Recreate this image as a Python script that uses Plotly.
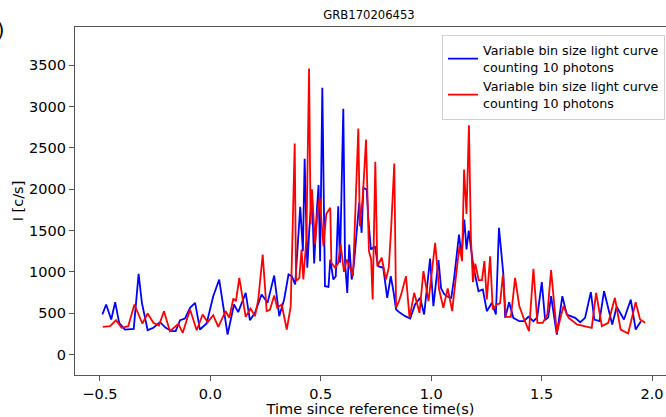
import plotly.graph_objects as go

# ---- data ----
blue_t = [-0.489, -0.472, -0.449, -0.431, -0.413, -0.387, -0.347, -0.325, -0.310, -0.284,
          -0.258, -0.228, -0.202, -0.175, -0.157, -0.137, -0.115, -0.092, -0.069, -0.047,
          -0.017, 0.013, 0.040, 0.078, 0.107, 0.126, 0.160, 0.179, 0.202, 0.232,
          0.259, 0.289, 0.312, 0.334, 0.354, 0.369, 0.384, 0.407, 0.419, 0.427,
          0.439, 0.448, 0.460, 0.470, 0.482, 0.490, 0.497, 0.507, 0.519, 0.535,
          0.543, 0.557, 0.568, 0.579, 0.587, 0.602, 0.610, 0.620, 0.629, 0.640,
          0.650, 0.662, 0.674, 0.685, 0.693, 0.708, 0.715, 0.727, 0.745, 0.760,
          0.783, 0.801, 0.817, 0.829, 0.841, 0.859, 0.882, 0.905, 0.927, 0.950,
          0.968, 0.995, 1.010, 1.033, 1.045, 1.060, 1.075, 1.091, 1.104, 1.126,
          1.137, 1.150, 1.160, 1.170, 1.180, 1.191, 1.214, 1.234, 1.252, 1.275,
          1.293, 1.307, 1.327, 1.335, 1.353, 1.372, 1.399, 1.420, 1.440, 1.463,
          1.480, 1.501, 1.516, 1.530, 1.543, 1.569, 1.594, 1.614, 1.652, 1.675,
          1.697, 1.723, 1.739, 1.762, 1.783, 1.802, 1.820, 1.840, 1.873, 1.904,
          1.926, 1.950]
blue_v = [484, 605, 423, 633, 383, 302, 310, 976, 625, 294,
          323, 391, 323, 282, 282, 415, 435, 565, 625, 302,
          375, 705, 907, 242, 605, 512, 746, 415, 504, 726,
          625, 955, 464, 665, 968, 947, 847, 1787, 1250, 2367,
          1049, 1512, 1950, 1100, 1734, 2050, 1129, 3226, 826, 818,
          1149, 907, 947, 1794, 1109, 2972, 1109, 746, 1331, 907,
          1089, 1512, 1835, 1472, 2016, 1996, 1653, 1270, 1310, 1068,
          1049, 686, 947, 766, 544, 504, 464, 435, 605, 686,
          484, 1161, 585, 1141, 800, 726, 700, 686, 928, 1452,
          1200, 1633, 1270, 1500, 1300, 1068, 766, 786, 524, 625,
          484, 1532, 968, 444, 633, 444, 403, 403, 456, 403,
          450, 875, 415, 450, 705, 242, 705, 484, 444, 391,
          444, 754, 423, 403, 766, 565, 363, 577, 423, 665,
          302, 403]

red_t = [-0.487, -0.454, -0.427, -0.402, -0.372, -0.344, -0.308, -0.284, -0.258, -0.233,
         -0.210, -0.183, -0.145, -0.125, -0.092, -0.062, -0.035, -0.012, 0.013, 0.036,
         0.069, 0.086, 0.104, 0.116, 0.131, 0.160, 0.182, 0.202, 0.217, 0.237,
         0.255, 0.270, 0.289, 0.303, 0.323, 0.346, 0.364, 0.382, 0.388, 0.403,
         0.413, 0.421, 0.435, 0.447, 0.454, 0.460, 0.474, 0.485, 0.495, 0.512,
         0.525, 0.543, 0.548, 0.565, 0.578, 0.590, 0.605, 0.618, 0.632, 0.646,
         0.670, 0.677, 0.690, 0.705, 0.718, 0.728, 0.735, 0.747, 0.756, 0.776,
         0.795, 0.808, 0.818, 0.833, 0.841, 0.855, 0.866, 0.886, 0.902, 0.923,
         0.947, 0.965, 0.988, 1.000, 1.018, 1.036, 1.055, 1.075, 1.095, 1.114,
         1.128, 1.140, 1.149, 1.160, 1.171, 1.180, 1.189, 1.200, 1.215, 1.230,
         1.241, 1.252, 1.267, 1.279, 1.297, 1.312, 1.325, 1.338, 1.361, 1.380,
         1.399, 1.421, 1.443, 1.463, 1.481, 1.505, 1.526, 1.543, 1.569, 1.599,
         1.622, 1.660, 1.700, 1.727, 1.747, 1.773, 1.802, 1.832, 1.858, 1.892,
         1.926, 1.946, 1.969]
red_v = [335, 343, 415, 323, 343, 605, 375, 496, 383, 351,
         524, 282, 371, 262, 544, 294, 484, 391, 476, 335,
         524, 444, 677, 645, 928, 456, 556, 464, 665, 1210,
         524, 544, 714, 565, 605, 302, 585, 2552, 887, 928,
         1270, 907, 1400, 3460, 1573, 2000, 1331, 1714, 1900, 1310,
         1700, 1775, 1109, 1049, 1100, 1331, 1000, 1150, 1050, 947,
         2734, 1552, 1900, 2600, 1250, 1150, 665, 2331, 1068, 1170,
         907, 1050, 1492, 2310, 565, 650, 746, 947, 444, 746,
         504, 1008, 645, 900, 1351, 786, 565, 800, 524, 988,
         1310, 1129, 2238, 1700, 2774, 1400, 875, 1100, 900, 900,
         1129, 665, 1189, 544, 605, 620, 968, 456, 456, 928,
         585, 423, 282, 1036, 383, 383, 484, 1020, 262, 585,
         444, 363, 340, 322, 746, 343, 383, 686, 302, 254,
         633, 423, 383]

x_tickvals = [-0.5, 0.0, 0.5, 1.0, 1.5, 2.0]
x_ticktext = ["\u22120.5", "0.0", "0.5", "1.0", "1.5", "2.0"]
y_tickvals = [0, 500, 1000, 1500, 2000, 2500, 3000, 3500]

series_name = "Variable bin size light curve<br>counting 10 photons"
title_text = "GRB170206453"
x_title = "Time since reference time(s)"
y_title = "I [c/s]"

FONT = "DejaVu Sans"

fig = go.Figure()
fig.add_trace(go.Scatter(x=blue_t, y=blue_v, mode="lines", name=series_name,
                         line=dict(color="#0000ff", width=1.8)))
fig.add_trace(go.Scatter(x=red_t, y=red_v, mode="lines", name=series_name,
                         line=dict(color="#ff0000", width=1.8)))

fig.update_layout(
    width=666, height=417,
    margin=dict(l=75, r=0, t=27, b=42, autoexpand=False),
    paper_bgcolor="white", plot_bgcolor="white",
    font=dict(family=FONT, color="black"),
    title=dict(text=title_text, x=369 / 666, xref="container", xanchor="center",
               y=1 - 15 / 417, yref="container", yanchor="middle",
               font=dict(family=FONT, size=11.6, color="black")),
    showlegend=True,
    legend=dict(x=0.621, y=0.978, xanchor="left", yanchor="top",
                bgcolor="white", bordercolor="#d0d0d0", borderwidth=1,
                font=dict(family=FONT, size=12.7, color="black"),
                tracegroupgap=0),
)
fig.update_xaxes(
    range=[-0.613, 2.0634], tickvals=x_tickvals, ticktext=x_ticktext,
    showgrid=False, zeroline=False,
    showline=True, linecolor="#555", linewidth=1.2, mirror=True,
    ticks="outside", ticklen=5, tickcolor="#555", tickwidth=1,
    tickfont=dict(family=FONT, size=14.5, color="black"),
    title=dict(text=x_title, standoff=4, font=dict(family=FONT, size=14.5, color="black")),
    automargin=False,
)
fig.update_yaxes(
    range=[-248, 3962], tickvals=y_tickvals,
    showgrid=False, zeroline=False,
    showline=True, linecolor="#555", linewidth=1.2,
    ticks="outside", ticklen=5, tickcolor="#555", tickwidth=1,
    tickfont=dict(family=FONT, size=14.5, color="black"),
    title=dict(text=y_title, standoff=2, font=dict(family=FONT, size=14.5, color="black")),
    automargin=False,
)
# panel label cut off at the left page edge, as in the reference
fig.add_annotation(text="(a)", xref="paper", yref="paper", x=-0.1218, y=0.99,
                   xanchor="right", yanchor="middle", showarrow=False,
                   font=dict(family=FONT, size=19, color="black"), xshift=3)

fig.write_html("out.html")
